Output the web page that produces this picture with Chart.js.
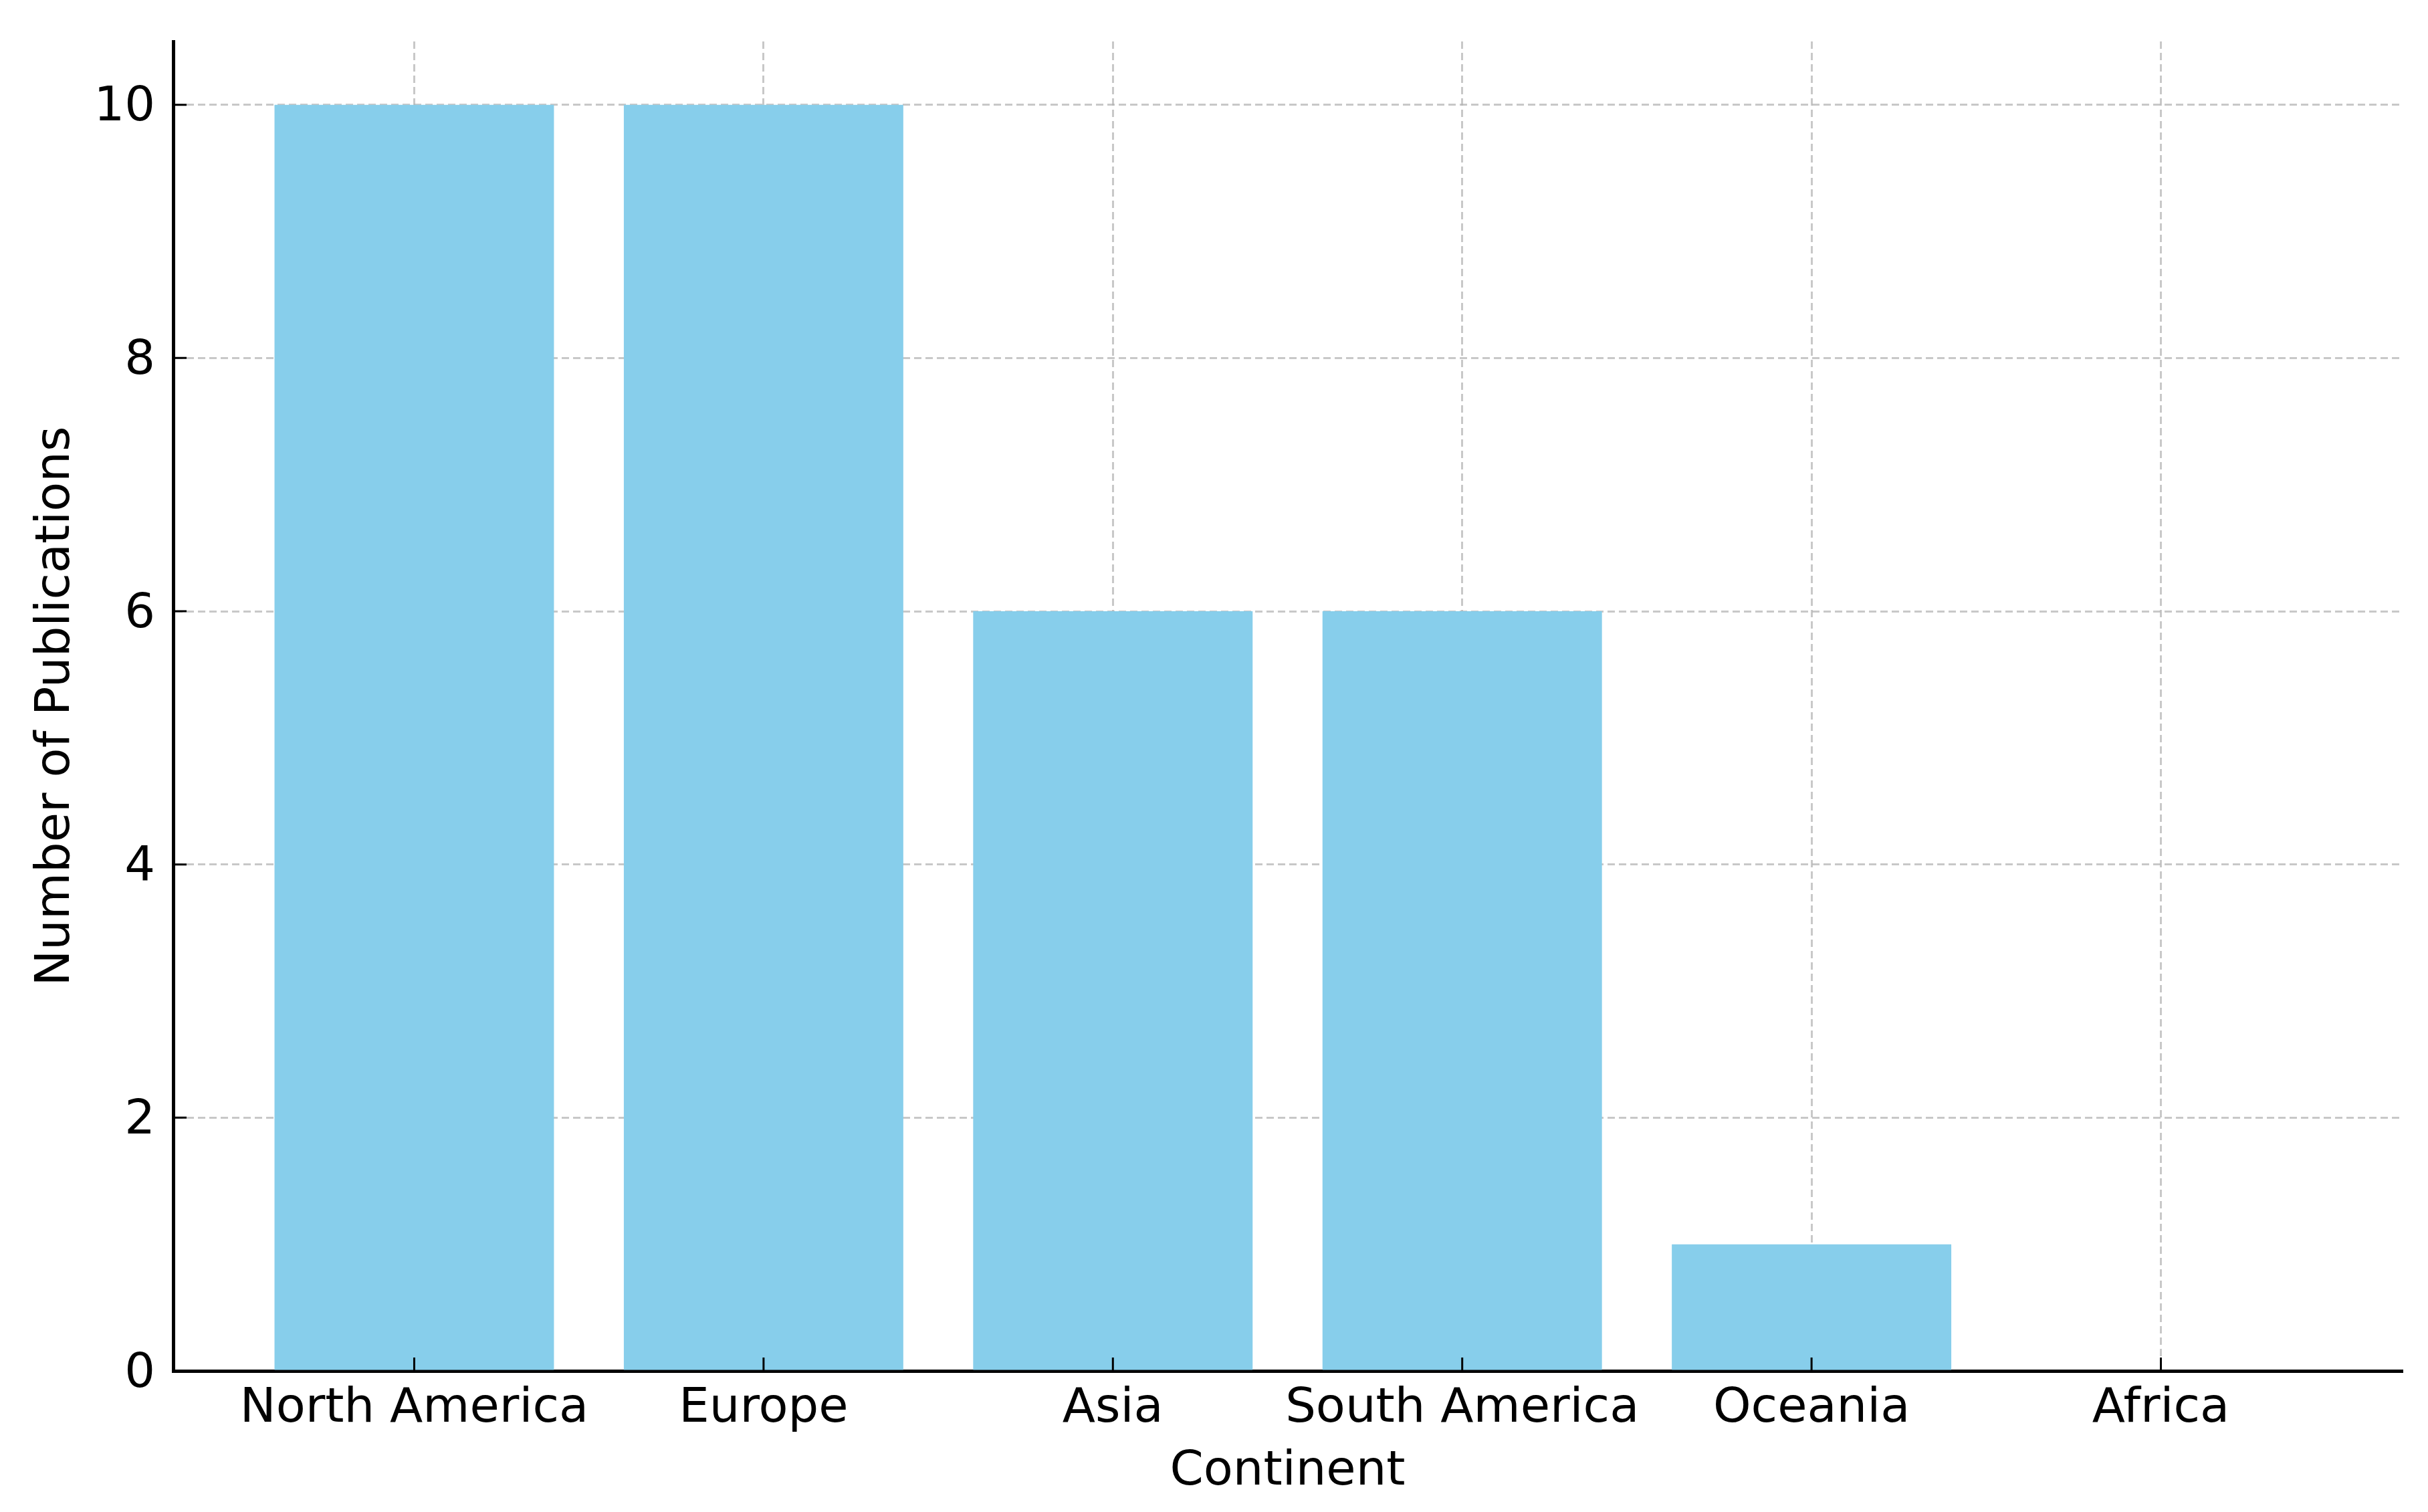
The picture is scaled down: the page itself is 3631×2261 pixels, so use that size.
<!DOCTYPE html>
<html>
<head>
<meta charset="utf-8">
<script src="https://cdn.jsdelivr.net/npm/chart.js@4.4.0/dist/chart.umd.min.js"></script>
<style>
  html, body { margin: 0; padding: 0; background: #fff; }
  #wrap { width: 3631px; height: 2261px; position: relative; }
</style>
</head>
<body>
<div id="wrap"><canvas id="chart"></canvas></div>
<script>
const continents = ['North America', 'Europe', 'Asia', 'South America', 'Oceania', 'Africa'];
const publications = [10, 10, 6, 6, 1, 0];
const yTickValues = [0, 2, 4, 6, 8, 10];

const FONT = 'DejaVu Sans';
const gridColor = 'rgba(176,176,176,0.7)';

// matplotlib-style inward tick marks
const inwardTicks = {
  id: 'inwardTicks',
  afterDraw(chart) {
    const { ctx, chartArea, scales } = chart;
    ctx.save();
    ctx.strokeStyle = '#000';
    ctx.lineWidth = 3;
    ctx.beginPath();
    continents.forEach((c, i) => {
      const px = scales.x.getPixelForValue(i);
      ctx.moveTo(px, chartArea.bottom);
      ctx.lineTo(px, chartArea.bottom - 20);
    });
    yTickValues.forEach(v => {
      const py = scales.y.getPixelForValue(v);
      ctx.moveTo(chartArea.left, py);
      ctx.lineTo(chartArea.left + 20, py);
    });
    ctx.stroke();
    ctx.restore();
  }
};

new Chart(document.getElementById('chart'), {
  type: 'bar',
  data: {
    datasets: [{
      data: continents.map((c, i) => ({ x: i, y: publications[i] })),
      backgroundColor: '#87CEEB',
      borderWidth: 0,
      categoryPercentage: 0.8,
      barPercentage: 1.0
    }]
  },
  options: {
    responsive: true,
    maintainAspectRatio: false,
    devicePixelRatio: 1,
    animation: false,
    layout: { padding: { left: 0, top: 62, right: 39, bottom: 0 } },
    plugins: { legend: { display: false }, tooltip: { enabled: false } },
    scales: {
      x: {
        type: 'linear',
        min: -0.69,
        max: 5.69,
        offset: false,
        z: 1,
        afterBuildTicks: s => { s.ticks = continents.map((c, i) => ({ value: i })); },
        afterFit: s => { s.height = 211; },
        ticks: {
          padding: 14,
          color: '#000',
          font: { family: FONT, size: 72 },
          callback: v => continents[v]
        },
        grid: { color: gridColor, lineWidth: 3, drawTicks: false, offset: false },
        border: { display: true, color: '#000', width: 5, dash: [11, 6] },
        title: {
          display: true,
          text: 'Continent',
          color: '#000',
          font: { family: FONT, size: 72 },
          padding: { top: 0, bottom: 17 }
        }
      },
      y: {
        min: 0,
        max: 10.5,
        z: 1,
        afterBuildTicks: s => { s.ticks = yTickValues.map(v => ({ value: v })); },
        afterFit: s => { s.width = 259; },
        ticks: {
          padding: 0,
          labelOffset: 5,
          color: '#000',
          font: { family: FONT, size: 72 }
        },
        // invisible outward ticks only space the labels; visible ticks come from the plugin
        grid: { color: gridColor, lineWidth: 3, drawTicks: true, tickLength: 27, tickColor: 'rgba(0,0,0,0)' },
        border: { display: true, color: '#000', width: 5, dash: [11, 6] },
        title: {
          display: true,
          text: 'Number of Publications',
          color: '#000',
          font: { family: FONT, size: 72 },
          padding: { top: 41, bottom: 0 }
        }
      }
    }
  },
  plugins: [inwardTicks]
});
</script>
</body>
</html>
